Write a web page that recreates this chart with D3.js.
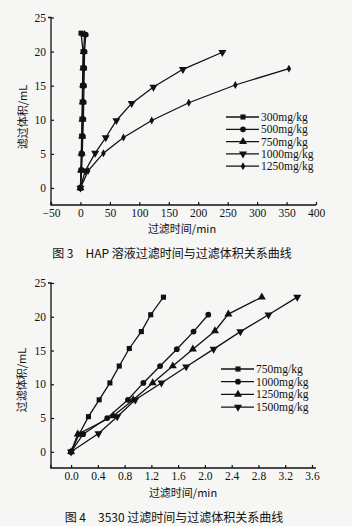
<!DOCTYPE html>
<html>
<head>
<meta charset="utf-8">
<script src="https://cdn.jsdelivr.net/npm/d3@7"></script>
<style>
  body { margin: 0; background: #f6f6f4; }
  svg { display: block; }
  .tick text { font-family: "Liberation Serif", serif; font-size: 11.5px; fill: #111; }
  .cn { font-family: "Noto Sans CJK SC", sans-serif; fill: #111; }
  .leg { font-family: "Liberation Serif", serif; font-size: 11.5px; fill: #111; }
</style>
</head>
<body>
<svg id="chart" width="352" height="526"></svg>
<script>
// ---- figure 3 data (HAP) ----
const f3_xticks = [-50, 0, 50, 100, 150, 200, 250, 300, 350, 400];
const f3_yticks = [0, 5, 10, 15, 20, 25];
const f3_labels = ["300mg/kg", "500mg/kg", "750mg/kg", "1000mg/kg", "1250mg/kg"];
const f3_t300 = [0, 1, 1.5, 2, 2.5, 3, 3.5, 4, 4.5, 1];
const f3_v300 = [0, 2.6, 5, 7.6, 10.1, 12.6, 15, 17.6, 20, 22.7];
const f3_t500 = [0, 2, 3, 4, 5, 5.5, 6, 6.5, 7, 9];
const f3_v500 = [0, 2.6, 5, 7.6, 10.1, 12.6, 15, 17.6, 20, 22.5];
const f3_t750 = [0, 1, 2, 3, 3.5, 4, 4.5, 5, 5.5, 7];
const f3_v750 = [0, 2.6, 5.1, 7.6, 10.1, 12.6, 15.1, 17.6, 20, 22.5];
const f3_t1000 = [0, 8, 25, 43, 61, 87, 124, 174, 241];
const f3_v1000 = [0, 2.5, 5.1, 7.4, 9.9, 12.4, 14.8, 17.4, 19.9];
const f3_t1250 = [0, 13, 39, 73, 121, 184, 263, 354];
const f3_v1250 = [0, 2.5, 5.1, 7.4, 9.9, 12.5, 15.1, 17.5];

// ---- figure 4 data (3530) ----
const f4_xticks = [0, 0.4, 0.8, 1.2, 1.6, 2.0, 2.4, 2.8, 3.2, 3.6];
const f4_yticks = [0, 5, 10, 15, 20, 25];
const f4_labels = ["750mg/kg", "1000mg/kg", "1250mg/kg", "1500mg/kg"];
const f4_t750 = [0, 0.12, 0.26, 0.42, 0.58, 0.72, 0.87, 1.05, 1.19, 1.38];
const f4_v750 = [0, 2.6, 5.2, 7.7, 10.2, 12.7, 15.3, 17.8, 20.3, 22.9];
const f4_t1000 = [0, 0.18, 0.54, 0.85, 1.08, 1.33, 1.58, 1.83, 2.05];
const f4_v1000 = [0, 2.6, 5.0, 7.7, 10.2, 12.7, 15.2, 17.8, 20.3];
const f4_t1250 = [0, 0.1, 0.63, 0.93, 1.22, 1.52, 1.82, 2.15, 2.35, 2.85];
const f4_v1250 = [0, 2.6, 5.3, 7.7, 10.2, 12.7, 15.2, 17.9, 20.4, 22.9];
const f4_t1500 = [0, 0.41, 0.69, 0.96, 1.35, 1.72, 2.13, 2.53, 2.95, 3.38];
const f4_v1500 = [0, 2.7, 5.2, 7.7, 10.2, 12.6, 15.2, 17.8, 20.3, 22.9];

const svg = d3.select("#chart");

// marker shapes: square, circle, up triangle, down triangle, diamond
const shapes = {
  sq: { type: d3.symbolSquare, size: 26, rot: 0 },
  ci: { type: d3.symbolCircle, size: 26, rot: 0 },
  up: { type: d3.symbolTriangle, size: 28, rot: 0 },
  dn: { type: d3.symbolTriangle, size: 28, rot: 180 },
  di: { type: d3.symbolDiamond, size: 18, rot: 0 }
};

function marker(g, x, y, key) {
  const s = shapes[key];
  g.append("path")
    .attr("d", d3.symbol().type(s.type).size(s.size)())
    .attr("transform", `translate(${x},${y}) rotate(${s.rot})`)
    .attr("fill", "#111");
}

function drawChart(c) {
  const g = svg.append("g");
  const x = d3.scaleLinear().domain(c.xdom).range(c.xr);
  const y = d3.scaleLinear().domain(c.ydom).range(c.yr);

  const xAxis = g.append("g")
    .attr("transform", `translate(0,${c.yr[0]})`)
    .call(d3.axisBottom(x).tickValues(c.xticks).tickSize(-3).tickPadding(4)
      .tickFormat(c.xfmt));
  const yAxis = g.append("g")
    .attr("transform", `translate(${c.xr[0]},0)`)
    .call(d3.axisLeft(y).tickValues(c.yticks).tickSize(-3).tickPadding(5));
  [xAxis, yAxis].forEach(a => {
    a.select(".domain").attr("stroke", "#111").attr("stroke-width", 1.3);
    a.selectAll(".tick line").attr("stroke", "#111").attr("stroke-width", 1.2);
  });
  yAxis.select(".domain").attr("d", `M-3,${y(25)}H0V${c.yr[0]}`);
  xAxis.select(".domain").attr("d", `M0,-3V0H${c.xr[1] - c.xr[0]}`).attr("transform", `translate(${c.xr[0]},0)`);

  const line = d3.line().x(d => x(d[0])).y(d => y(d[1]));
  c.series.forEach(s => {
    const pts = s.t.map((t, i) => [t, s.v[i]]);
    g.append("path").datum(pts).attr("d", line)
      .attr("fill", "none").attr("stroke", "#111").attr("stroke-width", 1.3);
    pts.forEach(p => marker(g, x(p[0]), y(p[1]), s.shape));
  });

  // legend
  c.labels.forEach((lab, i) => {
    const ly = c.leg.y + i * c.leg.dy;
    g.append("line").attr("x1", c.leg.x).attr("x2", c.leg.x + 33)
      .attr("y1", ly).attr("y2", ly).attr("stroke", "#111").attr("stroke-width", 1.3);
    marker(g, c.leg.x + 17, ly, c.series[i].shape);
    g.append("text").attr("class", "leg").attr("x", c.leg.x + 35).attr("y", ly + 4).text(lab);
  });

  g.append("text").attr("class", "cn")
    .attr("transform", `translate(${c.ylab.x},${c.ylab.y}) rotate(-90)`)
    .attr("text-anchor", "middle").attr("font-size", 11).text(c.ytitle);
  g.append("text").attr("class", "cn").attr("x", c.xlab.x).attr("y", c.xlab.y)
    .attr("text-anchor", "middle").attr("font-size", 11).text(c.xtitle);
  g.append("text").attr("class", "cn").attr("x", c.cap.x).attr("y", c.cap.y)
    .attr("text-anchor", "middle").attr("font-size", 12).text(c.caption);
}

drawChart({
  xdom: [-50, 400], xr: [51, 316],
  ydom: [-2.5, 25], yr: [205, 17.5],
  xticks: f3_xticks, yticks: f3_yticks, xfmt: d3.format("d"),
  labels: f3_labels,
  series: [
    { t: f3_t300, v: f3_v300, shape: "sq" },
    { t: f3_t500, v: f3_v500, shape: "ci" },
    { t: f3_t750, v: f3_v750, shape: "up" },
    { t: f3_t1000, v: f3_v1000, shape: "dn" },
    { t: f3_t1250, v: f3_v1250, shape: "di" }
  ],
  leg: { x: 226, y: 117, dy: 12.3 },
  ytitle: "滤过体积/mL", ylab: { x: 27, y: 117 },
  xtitle: "过滤时间/min", xlab: { x: 182, y: 233 },
  caption: "图 3　HAP 溶液过滤时间与过滤体积关系曲线", cap: { x: 172, y: 258 }
});

drawChart({
  xdom: [-0.3, 3.66], xr: [51, 316],
  ydom: [-2.4, 25], yr: [468, 283],
  xticks: f4_xticks, yticks: f4_yticks, xfmt: d3.format(".1f"),
  labels: f4_labels,
  series: [
    { t: f4_t750, v: f4_v750, shape: "sq" },
    { t: f4_t1000, v: f4_v1000, shape: "ci" },
    { t: f4_t1250, v: f4_v1250, shape: "up" },
    { t: f4_t1500, v: f4_v1500, shape: "dn" }
  ],
  leg: { x: 221, y: 369, dy: 12.7 },
  ytitle: "过滤体积/mL", ylab: { x: 26, y: 380 },
  xtitle: "过滤时间/min", xlab: { x: 183, y: 497 },
  caption: "图 4　3530 过滤时间与过滤体积关系曲线", cap: { x: 174, y: 522 }
});
</script>
</body>
</html>
